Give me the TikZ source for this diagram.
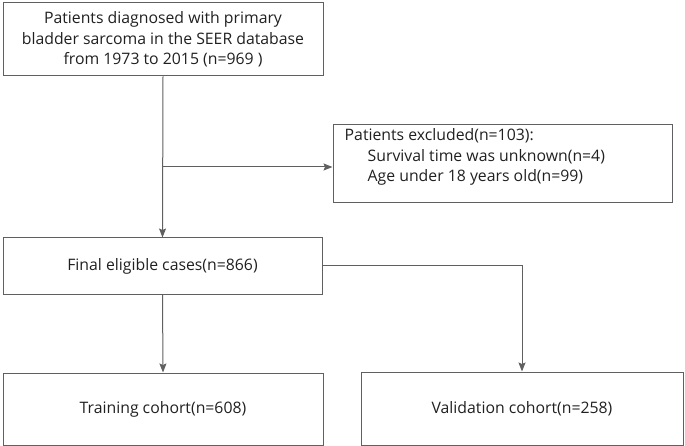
\documentclass[tikz,border=0pt]{standalone}
\usepackage{fontspec}
\setmainfont{Open Sans}
\usetikzlibrary{positioning,arrows.meta}
\definecolor{linegray}{HTML}{606060}
\definecolor{txtgray}{HTML}{202020}
\tikzset{
  box/.style={draw=linegray, line width=1pt, text=txtgray, align=center, inner sep=2pt},
  arr/.style={-{Stealth[length=9pt,width=7pt,inset=1.5pt]}, draw=linegray, line width=1pt}
}
\begin{document}
\begin{tikzpicture}[x=1pt,y=-1pt, font=\fontsize{15.8}{20.5}\selectfont]
  \useasboundingbox (0,0) rectangle (685,446);
  \node[box, minimum width=320, minimum height=73] (top) at (163,39.5)
    {Patients diagnosed with primary\\bladder sarcoma in the SEER database\\from 1973 to 2015 (n=969 )};
  \node[box, minimum width=339, minimum height=78] (excl) at (502.5,164) {};
  \node[anchor=north west, align=left, inner sep=0, text=txtgray] (excltext)
    at ([xshift=12,yshift=-4]excl.north west)
    {Patients excluded(n=103):\\\hspace*{23pt}Survival time was unknown(n=4)\\\hspace*{23pt}Age under 18 years old(n=99)};
  \node[box, minimum width=319, minimum height=56] (final) at (162.5,266) {Final eligible cases(n=866)};
  \node[box, minimum width=320, minimum height=72] (train) at (163,409) {Training cohort(n=608)};
  \node[box, minimum width=322, minimum height=73] (valid) at (522,408.5) {Validation cohort(n=258)};
  % connectors
  \coordinate (branch) at (top.south |- 0,167);
  \draw[arr] (top.south) -- (final.north);
  \draw[arr] (branch) -- (excl.west |- branch);
  \draw[arr] (final.east) -- (valid.north |- final.east) -- (valid.north);
  \draw[arr] (final.south) -- (train.north);
\end{tikzpicture}
\end{document}
